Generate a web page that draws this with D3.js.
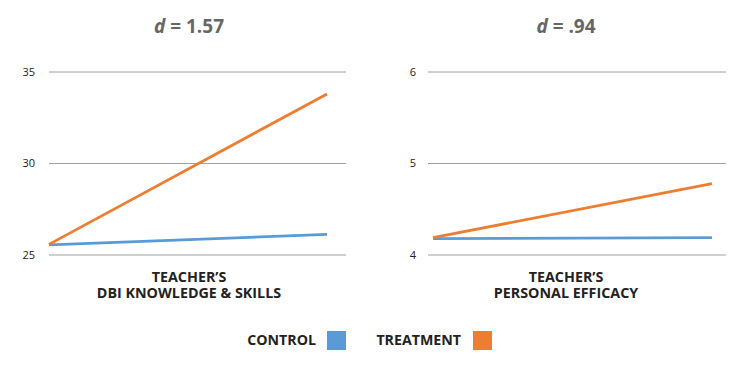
<!DOCTYPE html>
<html><head><meta charset="utf-8">
<script src="https://cdn.jsdelivr.net/npm/d3@7"></script>
<style>
body{margin:0;background:#fff;}
svg{display:block;font-family:"Open Sans",sans-serif;}
</style></head>
<body><svg id="c" width="750" height="385"></svg>
<script>
const timepoints = ["Pre", "Post"];
const panelTitles = ["1.57", ".94"];
const panelLabels = [["TEACHER\u2019S", "DBI KNOWLEDGE & SKILLS"], ["TEACHER\u2019S", "PERSONAL EFFICACY"]];
const seriesNames = ["CONTROL", "TREATMENT"];
const seriesColors = ["#5b9bd5", "#ed7d31"];
const knowledgeControl = [25.55, 26.13];
const knowledgeTreatment = [25.58, 33.8];
const efficacyControl = [4.18, 4.19];
const efficacyTreatment = [4.19, 4.78];
const knowledgeTicks = [25, 30, 35];
const efficacyTicks = [4, 5, 6];

const svg = d3.select("#c");
const panels = [
  {title: panelTitles[0], label: panelLabels[0], series: [knowledgeControl, knowledgeTreatment], ticks: knowledgeTicks,
   gx: [49, 346], lx: [49, 327], tickX: 35, cx: 189},
  {title: panelTitles[1], label: panelLabels[1], series: [efficacyControl, efficacyTreatment], ticks: efficacyTicks,
   gx: [428, 726], lx: [433, 712], tickX: 416, cx: 566}
];

panels.forEach(p => {
  const y = d3.scaleLinear().domain(d3.extent(p.ticks)).range([255, 72]);
  const x = d3.scalePoint().domain(timepoints).range(p.lx);
  const g = svg.append("g");
  g.selectAll("line.grid").data(p.ticks).join("line")
    .attr("x1", p.gx[0]).attr("x2", p.gx[1])
    .attr("y1", d => y(d)).attr("y2", d => y(d))
    .attr("stroke", "#a0a0a0").attr("stroke-width", 1);
  g.selectAll("text.tick").data(p.ticks).join("text")
    .attr("x", p.tickX).attr("y", d => y(d)).attr("dy", "0.35em")
    .attr("text-anchor", "end").attr("font-size", 11).attr("fill", "#222")
    .text(d => d);
  const line = d3.line().x((d, i) => x(timepoints[i])).y(d => y(d));
  p.series.forEach((s, i) => {
    g.append("path").datum(s).attr("d", line)
      .attr("fill", "none").attr("stroke", seriesColors[i]).attr("stroke-width", 2.8);
  });
  const t = g.append("text").attr("x", p.cx).attr("y", 33).attr("text-anchor", "middle")
    .attr("font-size", 19).attr("font-weight", "bold").attr("fill", "#666");
  t.append("tspan").attr("font-style", "italic").text("d");
  t.append("tspan").text(" = " + p.title);
  const lab = g.append("text").attr("text-anchor", "middle")
    .attr("font-size", 14.3).attr("font-weight", "bold").attr("fill", "#222");
  p.label.forEach((d, i) => {
    lab.append("tspan").attr("x", p.cx).attr("y", 282 + i * 15.5).text(d);
  });
});

const legX = [[316, 327], [461, 473]];
seriesNames.forEach((n, i) => {
  svg.append("text").attr("x", legX[i][0]).attr("y", 340).attr("dy", "0.35em")
    .attr("text-anchor", "end").attr("font-size", 14.2).attr("font-weight", "bold").attr("fill", "#222")
    .text(n);
  svg.append("rect").attr("x", legX[i][1]).attr("y", 331).attr("width", 19).attr("height", 19)
    .attr("fill", seriesColors[i]);
});
</script></body></html>
